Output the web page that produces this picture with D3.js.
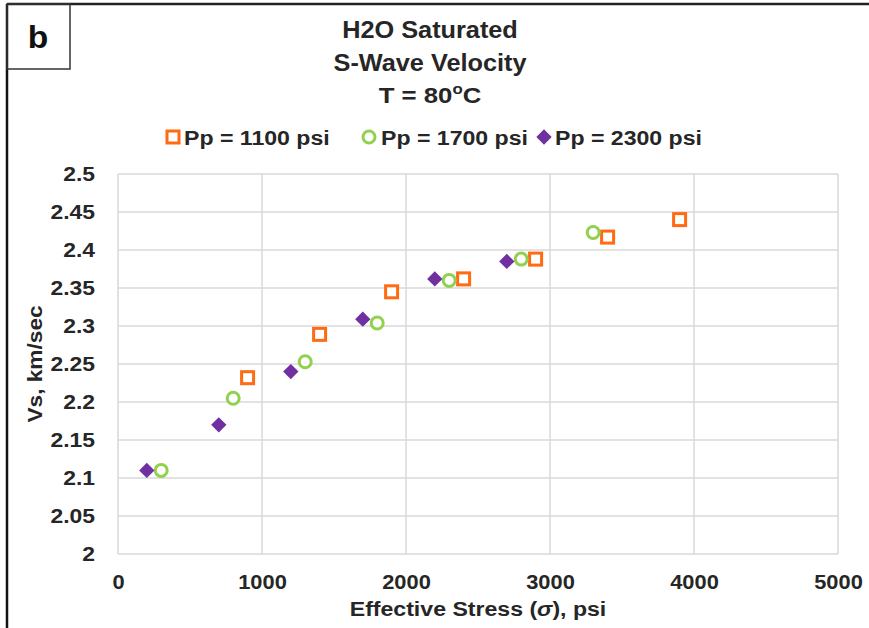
<!DOCTYPE html>
<html>
<head>
<meta charset="utf-8">
<script src="https://cdn.jsdelivr.net/npm/d3@7"></script>
<style>
  html, body { margin: 0; padding: 0; background: #fff; }
  svg text { font-family: "Liberation Sans", Arial, sans-serif; font-weight: bold; fill: #262626; }
</style>
</head>
<body>
<svg id="chart" width="869" height="628"></svg>
<script>
// ---- data ----
const seriesNames = ["Pp = 1100 psi", "Pp = 1700 psi", "Pp = 2300 psi"];
const stress1100 = [900, 1400, 1900, 2400, 2900, 3400, 3900];
const vs1100     = [2.232, 2.289, 2.345, 2.362, 2.388, 2.417, 2.440];
const stress1700 = [300, 800, 1300, 1800, 2300, 2800, 3300];
const vs1700     = [2.110, 2.205, 2.253, 2.304, 2.360, 2.388, 2.423];
const stress2300 = [200, 700, 1200, 1700, 2200, 2700];
const vs2300     = [2.110, 2.170, 2.240, 2.309, 2.362, 2.385];
const xTicks = [0, 1000, 2000, 3000, 4000, 5000];
const yTicks = [2, 2.05, 2.1, 2.15, 2.2, 2.25, 2.3, 2.35, 2.4, 2.45, 2.5];
const titleLines = ["H2O Saturated", "S-Wave Velocity"];

(function () {
const svg = d3.select("#chart");
const W = 869, H = 628;
const pL = 118, pR = 838, pT = 174, pB = 554;

const x = d3.scaleLinear().domain([0, 5000]).range([pL, pR]);
const y = d3.scaleLinear().domain([2, 2.5]).range([pB, pT]);

// helper: horizontally stretched text
function sText(parent, tx, ty, sx, size, anchor) {
  return parent.append("g").attr("transform", `translate(${tx},${ty}) scale(${sx},1)`)
    .append("text").attr("x", 0).attr("y", 0).attr("text-anchor", anchor || "middle")
    .style("font-size", size + "px");
}

// frame
svg.append("line").attr("x1", 7).attr("x2", W).attr("y1", 4).attr("y2", 4)
  .attr("stroke", "#222").attr("stroke-width", 2.5);
svg.append("line").attr("x1", 7).attr("x2", 7).attr("y1", 4).attr("y2", H)
  .attr("stroke", "#111").attr("stroke-width", 2.5);
svg.append("rect").attr("x", 7).attr("y", 4).attr("width", 63).attr("height", 65)
  .attr("fill", "none").attr("stroke", "#333").attr("stroke-width", 1.5);
sText(svg, 38, 48, 1.05, 32).style("fill", "#111").text("b");

// gridlines
const g = svg.append("g");
g.selectAll("line.h").data(yTicks).enter().append("line")
  .attr("x1", pL).attr("x2", pR)
  .attr("y1", d => y(d)).attr("y2", d => y(d))
  .attr("stroke", "#d9d9d9").attr("stroke-width", 1.5);
g.selectAll("line.v").data(xTicks).enter().append("line")
  .attr("y1", pT).attr("y2", pB)
  .attr("x1", d => x(d)).attr("x2", d => x(d))
  .attr("stroke", "#d9d9d9").attr("stroke-width", 1.5);

// axes (labels only)
const xAxis = d3.axisBottom(x).tickValues(xTicks).tickSize(0).tickPadding(20).tickFormat(d3.format("d"));
const xg = svg.append("g").attr("transform", `translate(0,${pB})`).call(xAxis);
xg.select(".domain").remove();
xg.selectAll("text").style("font-size", "21px").style("font-family", '"Liberation Sans", Arial, sans-serif')
  .attr("transform", "scale(1.04,1)");

const ySx = 1.09;
const yAxis = d3.axisLeft(y).tickValues(yTicks).tickSize(0).tickPadding(23).tickFormat(d => String(+d.toFixed(2)));
const yg = svg.append("g").attr("transform", `translate(${pL},0)`).call(yAxis);
yg.select(".domain").remove();
yg.selectAll("text").style("font-size", "21px").style("font-family", '"Liberation Sans", Arial, sans-serif')
  .attr("x", -23 / ySx).attr("transform", `scale(${ySx},1)`);

// axis titles
sText(svg, (pL + pR) / 2, 616, 1.1, 21)
  .call(t => {
    t.append("tspan").text("Effective Stress (");
    t.append("tspan").style("font-style", "italic").text("σ");
    t.append("tspan").text("), psi");
  });
svg.append("g").attr("transform", `translate(42,${(pT + pB) / 2}) rotate(-90) scale(1.08,1)`)
  .append("text").attr("text-anchor", "middle").style("font-size", "21px").text("Vs, km/sec");

// title
const cx = 430;
sText(svg, cx, 38, 1.1, 23).text(titleLines[0]);
sText(svg, cx, 71, 1.1, 23).text(titleLines[1]);
sText(svg, cx, 103, 1.12, 23)
  .call(t => {
    t.append("tspan").text("T = 80");
    t.append("tspan").attr("dy", -9).style("font-size", "15px").text("o");
    t.append("tspan").attr("dy", 9).text("C");
  });

// markers
const orange = "#ff6a13", green = "#92d050", purple = "#7030a0";
const sq = 12;
function drawSquare(sel, cxv, cyv) {
  sel.append("rect").attr("x", cxv - sq / 2).attr("y", cyv - sq / 2).attr("width", sq).attr("height", sq)
    .attr("fill", "#fff").attr("stroke", orange).attr("stroke-width", 3);
}
function drawCircle(sel, cxv, cyv) {
  sel.append("circle").attr("cx", cxv).attr("cy", cyv).attr("r", 6)
    .attr("fill", "#fff").attr("stroke", green).attr("stroke-width", 3);
}
const diamond = d3.symbol().type(d3.symbolDiamond2).size(150);
function drawDiamond(sel, cxv, cyv) {
  sel.append("path").attr("d", diamond).attr("transform", `translate(${cxv},${cyv})`)
    .attr("fill", purple);
}

const pts = svg.append("g");
stress1100.forEach((s, i) => drawSquare(pts, x(s), y(vs1100[i])));
stress1700.forEach((s, i) => drawCircle(pts, x(s), y(vs1700[i])));
stress2300.forEach((s, i) => drawDiamond(pts, x(s), y(vs2300[i])));

// legend
const ly = 137;
const leg = svg.append("g");
drawSquare(leg, 173, ly);
sText(leg, 184, ly + 7.5, 1.1, 21, "start").text(seriesNames[0]);
drawCircle(leg, 369, ly);
sText(leg, 381, ly + 7.5, 1.1, 21, "start").text(seriesNames[1]);
drawDiamond(leg, 544, ly);
sText(leg, 555, ly + 7.5, 1.1, 21, "start").text(seriesNames[2]);
})();
</script>
</body>
</html>
